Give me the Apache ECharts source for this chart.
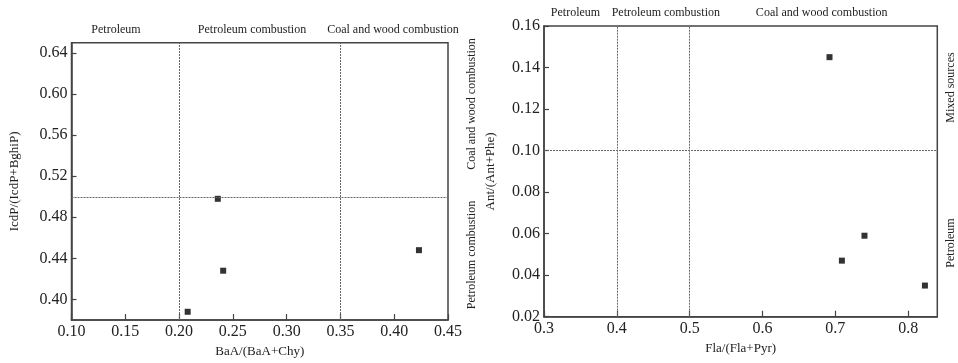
<!DOCTYPE html>
<html>
<head>
<meta charset="utf-8">
<script src="https://cdn.jsdelivr.net/npm/echarts@6/dist/echarts.min.js"></script>
<style>html,body{margin:0;padding:0;background:#fff}#c{width:958px;height:363px}</style>
</head>
<body>
<div id="c"></div>
<script>
// ---- data ----
const leftX = [0.236, 0.241, 0.208, 0.423];
const leftY = [0.498, 0.428, 0.388, 0.448];
const rightX = [0.692, 0.709, 0.740, 0.823];
const rightY = [0.145, 0.047, 0.059, 0.035];
const leftVLines = [0.20, 0.35];
const leftHLines = [0.50];
const rightVLines = [0.4, 0.5];
const rightHLines = [0.10];
const leftXTicks = [0.10, 0.15, 0.20, 0.25, 0.30, 0.35, 0.40, 0.45];
const leftYTicks = [0.40, 0.44, 0.48, 0.52, 0.56, 0.60, 0.64];
const rightXTicks = [0.3, 0.4, 0.5, 0.6, 0.7, 0.8];
const rightYTicks = [0.02, 0.04, 0.06, 0.08, 0.10, 0.12, 0.14, 0.16];
const leftXName = 'BaA/(BaA+Chy)';
const leftYName = 'IcdP/(IcdP+BghiP)';
const rightXName = 'Fla/(Fla+Pyr)';
const rightYName = 'Ant/(Ant+Phe)';

const FONT = '"Liberation Serif", "Times New Roman", serif';
const AX = '#444';
const TXT = '#222';

function pairs(xs, ys) { return xs.map((x, i) => [x, ys[i]]); }

function xAxis(grid, min, max, ticks, dec, name, gap) {
  return {
    type: 'value', gridIndex: grid, min: min, max: max, name: name,
    nameLocation: 'middle', nameGap: gap,
    nameTextStyle: { fontFamily: FONT, fontSize: 13, color: TXT },
    axisLine: { show: true, lineStyle: { color: AX, width: 1.5 } },
    axisTick: { show: true, inside: true, length: 6, customValues: ticks, lineStyle: { color: AX, width: 1.2 } },
    axisLabel: { customValues: ticks, fontFamily: FONT, fontSize: 16, color: TXT, margin: 4,
      formatter: v => v.toFixed(dec) },
    splitLine: { show: false }
  };
}
function yAxis(grid, min, max, ticks, dec, name, gap) {
  return {
    type: 'value', gridIndex: grid, min: min, max: max, name: name,
    nameLocation: 'middle', nameGap: gap,
    nameTextStyle: { fontFamily: FONT, fontSize: 13, color: TXT },
    axisLine: { show: true, lineStyle: { color: AX, width: 1.5 } },
    axisTick: { show: true, inside: true, length: 5, customValues: ticks, lineStyle: { color: AX, width: 1.2 } },
    axisLabel: { customValues: ticks, fontFamily: FONT, fontSize: 16, color: TXT, margin: 4,
      formatter: v => v.toFixed(dec) },
    splitLine: { show: false }
  };
}
function refLines(vs, hs) {
  return {
    silent: true, symbol: 'none', label: { show: false },
    lineStyle: { color: '#666', width: 1, type: [2, 1] },
    data: vs.map(v => ({ xAxis: v })).concat(hs.map(h => ({ yAxis: h })))
  };
}
function txt(t, x, y, rot) {
  return { type: 'text', x: x, y: y, rotation: rot ? Math.PI / 2 : 0, silent: true,
    style: { text: t, fontFamily: FONT, fontSize: 12, fill: TXT, align: 'center', verticalAlign: 'middle' } };
}

const chart = echarts.init(document.getElementById('c'), null, { renderer: 'canvas' });
chart.setOption({
  animation: false,
  backgroundColor: '#fff',
  grid: [
    { left: 71.5, right: 510, top: 42.7, bottom: 43, show: true, borderColor: AX, borderWidth: 1.5, backgroundColor: 'transparent' },
    { left: 544, right: 20.7, top: 26, bottom: 46.3, show: true, borderColor: AX, borderWidth: 1.5, backgroundColor: 'transparent' }
  ],
  xAxis: [
    xAxis(0, 0.10, 0.45, leftXTicks, 2, leftXName, 25),
    xAxis(1, 0.3, 0.84, rightXTicks, 1, rightXName, 22)
  ],
  yAxis: [
    yAxis(0, 0.38, 0.65, leftYTicks, 2, leftYName, 50),
    yAxis(1, 0.02, 0.16, rightYTicks, 2, rightYName, 47)
  ],
  series: [
    { type: 'scatter', xAxisIndex: 0, yAxisIndex: 0, symbol: 'rect', symbolSize: 6,
      itemStyle: { color: '#000' }, data: pairs(leftX, leftY), markLine: refLines(leftVLines, leftHLines) },
    { type: 'scatter', xAxisIndex: 1, yAxisIndex: 1, symbol: 'rect', symbolSize: 6,
      itemStyle: { color: '#000' }, data: pairs(rightX, rightY), markLine: refLines(rightVLines, rightHLines) }
  ],
  graphic: [
    txt('Petroleum', 116, 30),
    txt('Petroleum combustion', 252, 30),
    txt('Coal and wood combustion', 393, 30),
    txt('Coal and wood combustion', 472, 104, true),
    txt('Petroleum combustion', 472, 255, true),
    txt('Petroleum', 575.5, 12.7),
    txt('Petroleum combustion', 665.8, 12.7),
    txt('Coal and wood combustion', 821.7, 12.7),
    txt('Mixed sources', 950.7, 87.5, true),
    txt('Petroleum', 950.7, 243, true)
  ]
});
</script>
</body>
</html>
